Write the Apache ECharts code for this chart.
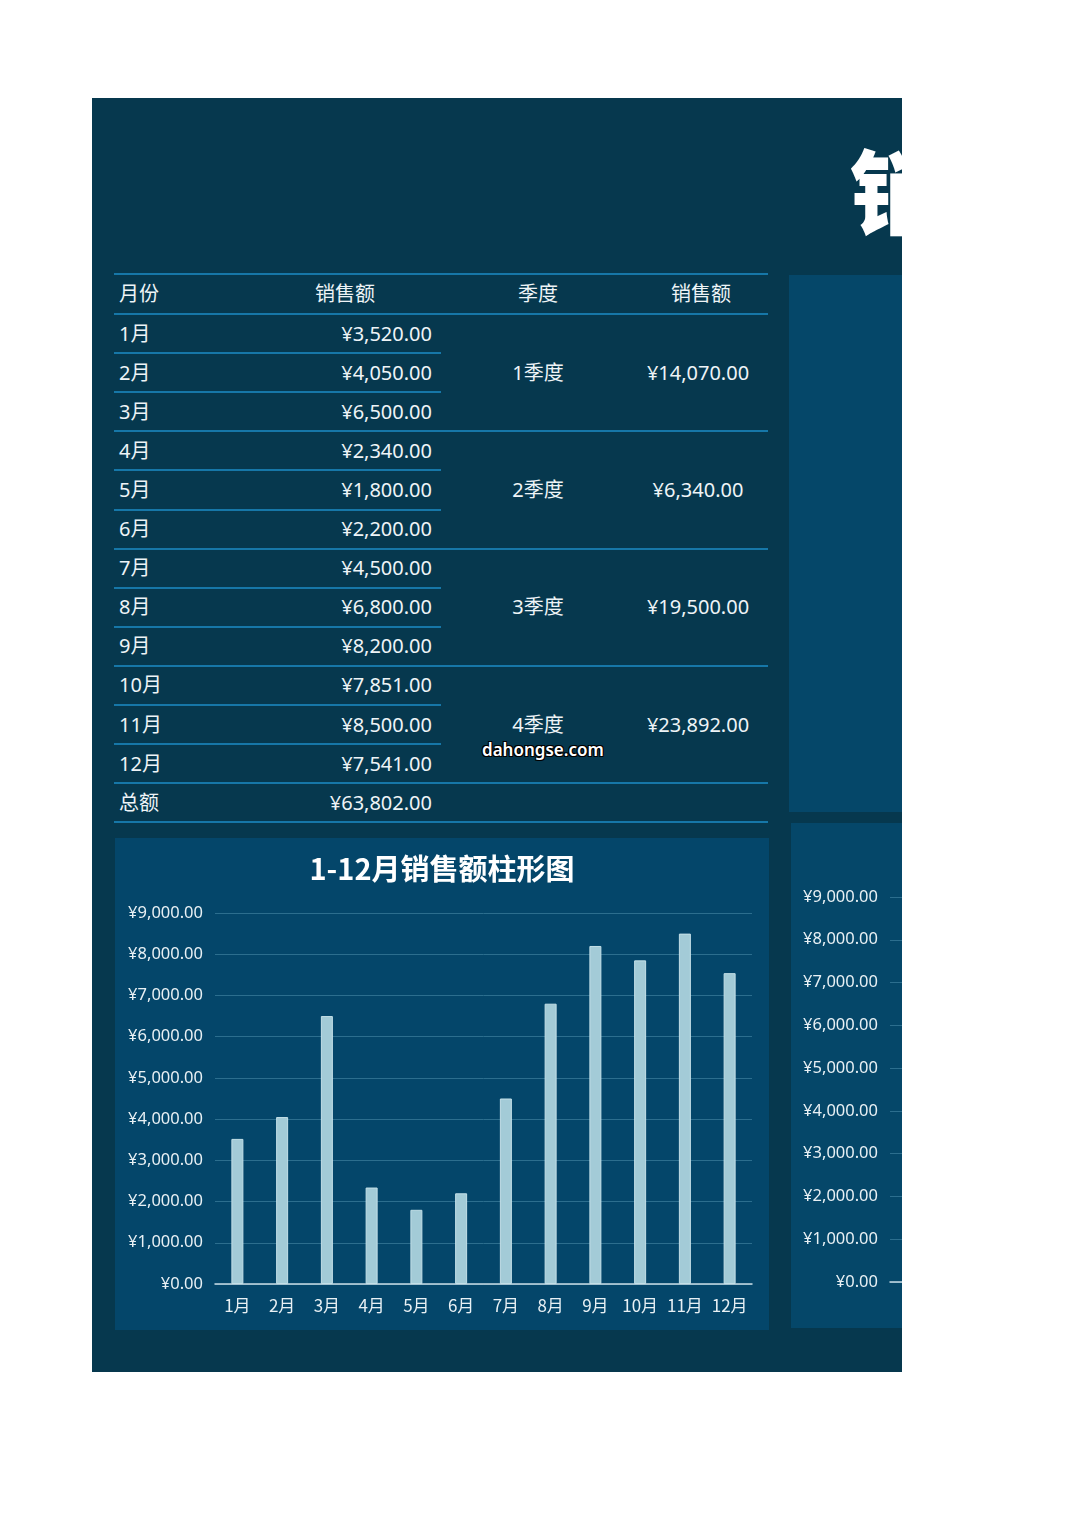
<!DOCTYPE html>
<html>
<head>
<meta charset="utf-8">
<script src="https://cdn.jsdelivr.net/npm/echarts@6/dist/echarts.min.js"></script>
<style>
    body { margin: 0; background: #fff; width: 1080px; height: 1526px; position: relative; overflow: hidden;
        font-family: "Noto Sans", "Noto Sans CJK SC", sans-serif; }
    .page { position: absolute; left: 92px; top: 98px; width: 810px; height: 1274px; background: #06384e; overflow: hidden; }
    .big { position: absolute; left: 758px; top: 22px; font-size: 92px; font-weight: 900; color: #fff;
        font-family: "Noto Sans CJK SC", sans-serif; white-space: nowrap; }
    .side1 { position: absolute; left: 697px; top: 177px; width: 200px; height: 537px; background: #054769; }
    .side2 { position: absolute; left: 699px; top: 725px; width: 200px; height: 505px; background: #054769; overflow: hidden; }
    .cell { position: absolute; color: #eef4f7; font-size: 20px; line-height: 24px; white-space: nowrap; }
    .line { position: absolute; height: 2px; background: #1677a8; }
    .panel { position: absolute; left: 23px; top: 740px; width: 654px; height: 492px; background: #04466a; }
    .mark { position: absolute; left: 390px; top: 640px; font-size: 17px; color: #fff; font-weight: 600;
        text-shadow: -1px -1px 0 #000, 1px -1px 0 #000, -1px 1px 0 #000, 1px 1px 0 #000; }
</style>
</head>
<body>
<div class="page" id="page">
    <div class="big">销售额统计表</div>
    <div class="side1"></div>
    <div class="side2"><div id="side" style="width:900px;height:505px;"></div></div>
    <div class="panel"><div id="chart" style="width:654px;height:492px;"></div></div>
    <div class="mark">dahongse.com</div>
</div>
<script>
var months = ['1月', '2月', '3月', '4月', '5月', '6月', '7月', '8月', '9月', '10月', '11月', '12月'];
var sales = [3520, 4050, 6500, 2340, 1800, 2200, 4500, 6800, 8200, 7851, 8500, 7541];
var quarters = ['1季度', '2季度', '3季度', '4季度'];
var quarterTotals = [14070, 6340, 19500, 23892];
var grandTotal = 63802;
var headers = ['月份', '销售额', '季度', '销售额'];

function money(v) {
    return '¥' + v.toLocaleString('en-US', {minimumFractionDigits: 2, maximumFractionDigits: 2});
}

var page = document.getElementById('page');
var ox = 92, oy = 98;
var rowH = 39.1, top0 = 314;

function cell(text, x, y, align) {
    var d = document.createElement('div');
    d.className = 'cell';
    d.textContent = text;
    d.style.top = (y - oy - 12) + 'px';
    if (align == 'right') {
        d.style.right = (810 - (x - ox)) + 'px';
    } else if (align == 'center') {
        d.style.left = (x - ox - 100) + 'px';
        d.style.width = '200px';
        d.style.textAlign = 'center';
    } else {
        d.style.left = (x - ox) + 'px';
    }
    page.appendChild(d);
}
function line(x1, x2, y) {
    var d = document.createElement('div');
    d.className = 'line';
    d.style.left = (x1 - ox) + 'px';
    d.style.width = (x2 - x1) + 'px';
    d.style.top = (y - oy - 1) + 'px';
    page.appendChild(d);
}

// 表头
line(114, 768, 274);
cell(headers[0], 119, 294);
cell(headers[1], 345, 294, 'center');
cell(headers[2], 538, 294, 'center');
cell(headers[3], 701, 294, 'center');
line(114, 768, top0);

for (var i = 0; i < months.length; i++) {
    var cy = top0 + rowH * i + rowH / 2;
    cell(months[i], 119, cy);
    cell(money(sales[i]), 432, cy, 'right');
    var ly = top0 + rowH * (i + 1);
    if (i % 3 == 2) {
        line(114, 768, ly);
    } else {
        line(114, 441, ly);
    }
}
for (var q = 0; q < quarters.length; q++) {
    var qy = top0 + rowH * (q * 3 + 1) + rowH / 2;
    cell(quarters[q], 538, qy, 'center');
    cell(money(quarterTotals[q]), 698, qy, 'center');
}
var ty = top0 + rowH * 12 + rowH / 2;
cell('总额', 119, ty);
cell(money(grandTotal), 432, ty, 'right');
line(114, 768, top0 + rowH * 13);

var labelColor = '#e8f0f4';
var barColor = '#a3cbd7';

function makeOption(left, top, bottom, right, showTitle) {
    return {
        animation: false,
        title: {
            show: showTitle,
            text: '1-12月销售额柱形图',
            left: 'center',
            top: 11,
            textStyle: {color: '#fff', fontSize: 29, fontWeight: 'bold', fontFamily: 'Noto Sans CJK SC'}
        },
        grid: {left: left, right: right, top: top, bottom: bottom, containLabel: false},
        xAxis: {
            type: 'category',
            data: months,
            axisLine: {lineStyle: {color: '#c9dde6', width: 1.5}},
            axisTick: {show: false},
            axisLabel: {color: labelColor, fontSize: 17, margin: 13, interval: 0, fontFamily: 'Noto Sans CJK SC'}
        },
        yAxis: {
            type: 'value',
            min: 0,
            max: 9000,
            interval: 1000,
            axisLine: {show: false},
            axisTick: {show: false},
            splitLine: {lineStyle: {color: '#2c6e8e', width: 1}},
            axisLabel: {color: labelColor, fontSize: 16.5, margin: 12, fontFamily: 'Noto Sans',
                formatter: function (v) { return money(v); }}
        },
        series: [{
            type: 'bar',
            data: sales,
            barWidth: 12,
            itemStyle: {color: barColor, borderColor: '#c4e0e8', borderWidth: 1}
        }]
    };
}

var myChart = echarts.init(document.getElementById('chart'));
myChart.setOption(makeOption(100, 75, 46, 17, true));

var sideChart = echarts.init(document.getElementById('side'));
sideChart.setOption(makeOption(99, 74, 46, 10, false));
</script>
</body>
</html>
